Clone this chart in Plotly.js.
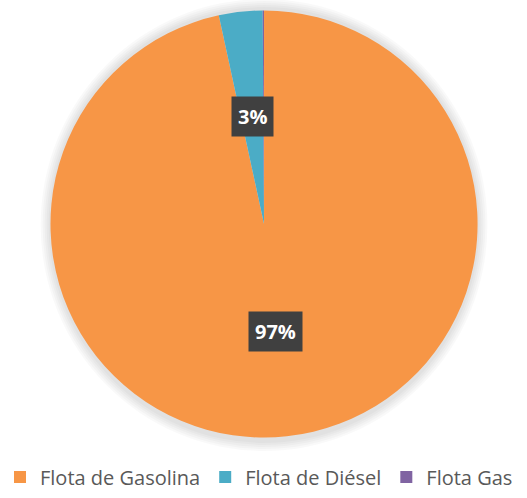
<!DOCTYPE html>
<html>
<head>
<meta charset="utf-8">
<script src="https://cdn.plot.ly/plotly-3.0.1.min.js"></script>
<style>html,body{margin:0;padding:0;background:#fff;}#chart{width:527px;height:498px;}</style>
</head>
<body>
<div id="chart"></div>
<script>
var categories = ['Flota de Gasolina', 'Flota de Diésel', 'Flota Gas'];
var values = [96.6, 3.3, 0.1];
var colors = ['#F79646', '#4BACC6', '#8064A2'];
var showLabel = [true, true, false];

var W = 527, H = 498, MB = 45;
var PH = H - MB; // plot-area height
var cx = 261, cy = 224, R = 216;

var total = values.reduce(function(a, b) { return a + b; }, 0);

var trace = {
  type: 'pie',
  labels: categories,
  values: values,
  sort: false,
  direction: 'clockwise',
  rotation: 0,
  textinfo: 'none',
  hoverinfo: 'label+percent',
  marker: {colors: colors, line: {width: 0}},
  domain: {x: [(cx - R) / W, (cx + R) / W], y: [1 - (cy + R) / PH, 1 - (cy - R) / PH]},
  showlegend: true
};

var annotations = [];
var shapes = [];
// soft shadow around the pie
for (var k = 1; k <= 5; k++) {
  var rr = R + k * 2;
  shapes.push({
    type: 'circle', xref: 'paper', yref: 'paper', layer: 'below',
    x0: (cx - rr) / W, x1: (cx + rr) / W,
    y0: 1 - (cy + 1 + rr) / PH, y1: 1 - (cy + 1 - rr) / PH,
    fillcolor: 'rgba(0,0,0,0.022)', line: {width: 0}
  });
}

var cum = 0;
for (var i = 0; i < values.length; i++) {
  var frac = values[i] / total;
  var mid = cum + frac / 2;
  cum += frac;
  if (!showLabel[i]) continue;
  var th = 2 * Math.PI * mid;
  var px = cx + 0.5 * R * Math.sin(th);
  var py = cy - 0.5 * R * Math.cos(th);
  annotations.push({
    xref: 'paper', yref: 'paper', x: px / W, y: 1 - py / PH,
    xanchor: 'center', yanchor: 'middle',
    text: '<b>' + Math.round(frac * 100) + '%</b>', showarrow: false,
    bgcolor: '#404040', borderpad: 6,
    font: {family: 'Open Sans, sans-serif', size: 20, color: '#ffffff'}
  });
}

var layout = {
  width: W, height: H,
  margin: {l: 0, r: 0, t: 0, b: MB},
  paper_bgcolor: '#ffffff',
  showlegend: true,
  legend: {
    orientation: 'h', x: -0.012, xanchor: 'left', y: -(477 - PH) / PH, yanchor: 'middle',
    font: {family: 'Open Sans, sans-serif', size: 20, color: '#595959'},
    itemclick: false
  },
  annotations: annotations,
  shapes: shapes
};

Plotly.newPlot('chart', [trace], layout, {displayModeBar: false, staticPlot: true});
</script>
</body>
</html>
